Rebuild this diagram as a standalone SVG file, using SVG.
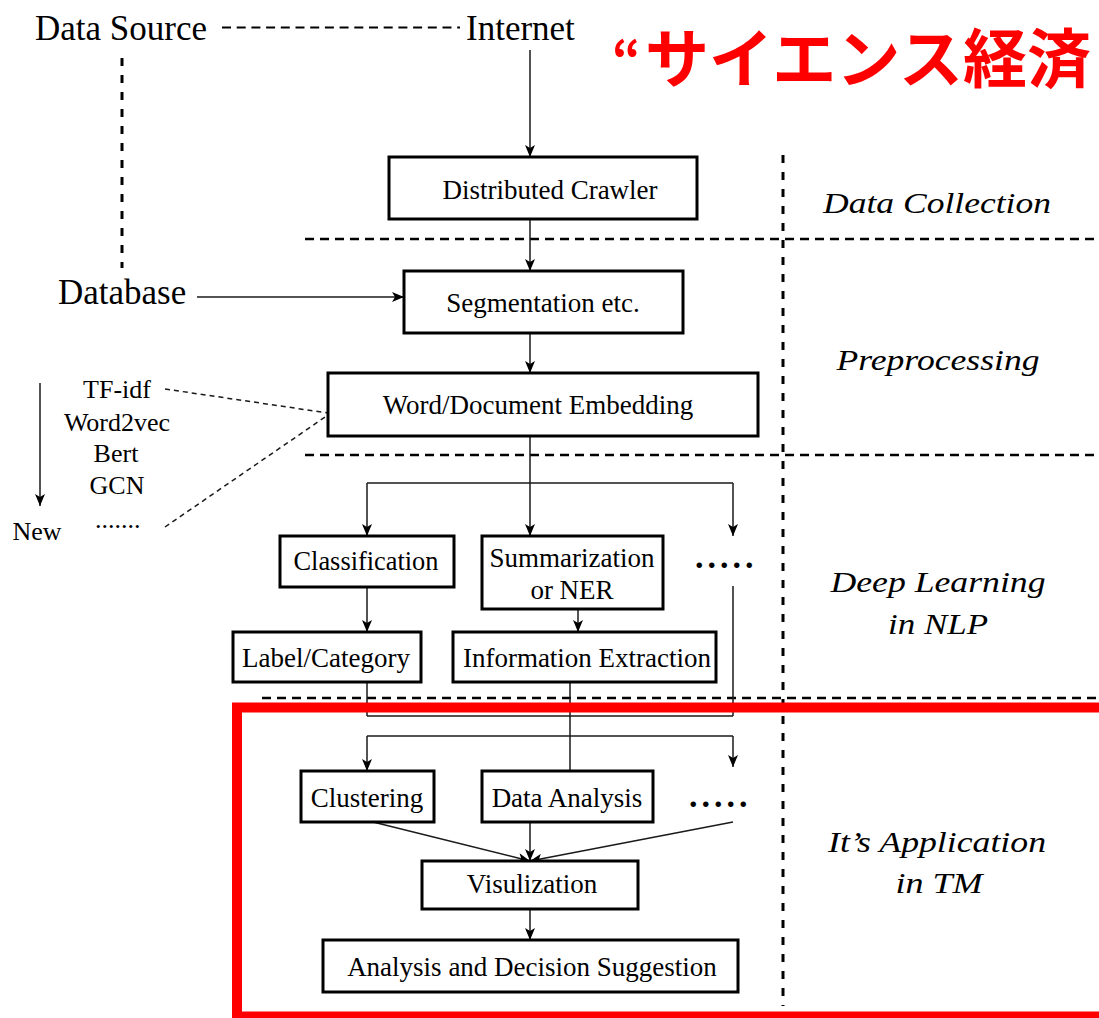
<svg xmlns="http://www.w3.org/2000/svg" width="1099" height="1018" viewBox="0 0 1099 1018">
<style>
text{font-family:"Liberation Serif","Times New Roman",serif;fill:#000}
.box rect{fill:#fff;stroke:#000;stroke-width:3}
.bt{font-size:27px;text-anchor:middle}
.lbl{font-size:30px;font-style:italic;text-anchor:middle}
.big{font-size:35px}
.side{font-size:26px;text-anchor:middle}
.dots{font-size:34px;font-weight:bold;letter-spacing:4px}
.conn line{stroke:#1a1a1a;stroke-width:1.5;fill:none}
.conn .arr{marker-end:url(#ah)}
.sep{stroke:#000;stroke-width:2.6;stroke-dasharray:9 6;fill:none}
.vsep{stroke:#000;stroke-width:3;stroke-dasharray:8 9;fill:none}
.thin{stroke:#333;stroke-width:1.2;stroke-dasharray:5 4;fill:none}
</style>
<defs>
<marker id="ah" viewBox="0 0 12 10" refX="12" refY="5" markerWidth="12" markerHeight="10" markerUnits="userSpaceOnUse" orient="auto">
<path d="M0,0 L12,5 L0,10 L3,5 Z" fill="#000"/>
</marker>
</defs>
<rect width="1099" height="1018" fill="#fff"/>

<!-- separators -->
<g id="separators">
<line class="sep" x1="222" y1="27.5" x2="460" y2="27.5" style="stroke-width:2;stroke-dasharray:9 5.7"/>
<line class="vsep" x1="122" y1="58" x2="122" y2="268"/>
<line class="sep" x1="305" y1="239" x2="1099" y2="239"/>
<line class="sep" x1="305" y1="455" x2="1099" y2="455"/>
<line class="sep" x1="262" y1="698" x2="1099" y2="698"/>
<line class="vsep" x1="783" y1="155" x2="783" y2="1006"/>
</g>

<!-- title -->
<text id="title" x="612" y="82" font-weight="bold" style="font-family:'Noto Sans CJK JP',sans-serif;fill:#ff0000;font-size:64px"><tspan style="font-size:50px" y="78">“</tspan><tspan x="645" y="82">サイエンス経済</tspan></text>

<!-- source labels -->
<g id="data-source"><text class="big" x="35" y="40">Data Source</text></g>
<g id="internet"><text class="big" x="466" y="40">Internet</text></g>
<g id="database"><text class="big" x="58" y="304">Database</text></g>

<!-- embedding list -->
<g id="embedding-list">
<text class="side" x="117" y="398">TF-idf</text>
<text class="side" x="117" y="431">Word2vec</text>
<text class="side" x="116" y="462">Bert</text>
<text class="side" x="117" y="494">GCN</text>
<text class="side" x="37" y="540">New</text>
<text x="95" y="528" style="font-size:26px">.......</text>
</g>

<!-- stage labels -->
<g id="stage-labels">
<text class="lbl" x="937" y="213" textLength="228" lengthAdjust="spacingAndGlyphs">Data Collection</text>
<text class="lbl" x="938" y="370" textLength="203" lengthAdjust="spacingAndGlyphs">Preprocessing</text>
<text class="lbl" x="938" y="592" textLength="215" lengthAdjust="spacingAndGlyphs">Deep Learning</text>
<text class="lbl" x="938" y="634" textLength="100" lengthAdjust="spacingAndGlyphs">in NLP</text>
<text class="lbl" x="937" y="852" textLength="218" lengthAdjust="spacingAndGlyphs">It’s Application</text>
<text class="lbl" x="939" y="893" textLength="87" lengthAdjust="spacingAndGlyphs">in TM</text>
</g>

<!-- connectors -->
<g id="connectors" class="conn">
<line class="arr" x1="530" y1="50" x2="530" y2="157"/>
<line class="arr" x1="530" y1="219" x2="530" y2="271"/>
<line class="arr" x1="197" y1="297" x2="404" y2="297"/>
<line class="arr" x1="530" y1="333" x2="530" y2="373"/>
<line x1="530" y1="436" x2="530" y2="483"/>
<line x1="367" y1="483" x2="733" y2="483"/>
<line class="arr" x1="367" y1="483" x2="367" y2="536"/>
<line class="arr" x1="530" y1="483" x2="530" y2="536"/>
<line class="arr" x1="733" y1="483" x2="733" y2="536"/>
<line class="arr" x1="367" y1="587" x2="367" y2="632"/>
<line class="arr" x1="578" y1="609" x2="578" y2="632"/>
<line x1="367" y1="682" x2="367" y2="716"/>
<line x1="733" y1="586" x2="733" y2="716"/>
<line x1="367" y1="716" x2="733" y2="716"/>
<line x1="570" y1="682" x2="570" y2="771"/>
<line x1="367" y1="736" x2="733" y2="736"/>
<line class="arr" x1="367" y1="736" x2="367" y2="771"/>
<line class="arr" x1="733" y1="736" x2="733" y2="767"/>
<line class="arr" x1="373" y1="822" x2="530" y2="861"/>
<line class="arr" x1="530" y1="822" x2="530" y2="861"/>
<line class="arr" x1="733" y1="822" x2="530" y2="861"/>
<line class="arr" x1="530" y1="909" x2="530" y2="940"/>
<line class="arr" x1="40" y1="383" x2="40" y2="506"/>
<line class="thin" x1="165" y1="389" x2="328" y2="413"/>
<line class="thin" x1="165" y1="527" x2="328" y2="415"/>
</g>

<!-- nodes -->
<g id="crawler" class="box"><rect x="389" y="157" width="308" height="62"/><text class="bt" x="550" y="199">Distributed Crawler</text></g>
<g id="segmentation" class="box"><rect x="404" y="271" width="279" height="62"/><text class="bt" x="543" y="312">Segmentation etc.</text></g>
<g id="embedding" class="box"><rect x="328" y="373" width="430" height="63"/><text class="bt" x="538" y="414">Word/Document Embedding</text></g>
<g id="classification" class="box"><rect x="280" y="536" width="174" height="51"/><text class="bt" x="366" y="570" textLength="145" lengthAdjust="spacingAndGlyphs">Classification</text></g>
<g id="summarization" class="box"><rect x="482" y="536" width="181" height="73"/><text class="bt" x="572" y="567">Summarization</text><text class="bt" x="572" y="599">or NER</text></g>
<g id="more-dl"><text class="dots" x="695" y="568">.....</text></g>
<g id="label-category" class="box"><rect x="233" y="632" width="188" height="50"/><text class="bt" x="326" y="667">Label/Category</text></g>
<g id="info-extraction" class="box"><rect x="453" y="632" width="263" height="50"/><text class="bt" x="587" y="667">Information Extraction</text></g>
<g id="clustering" class="box"><rect x="301" y="771" width="133" height="51"/><text class="bt" x="367" y="807">Clustering</text></g>
<g id="data-analysis" class="box"><rect x="482" y="771" width="171" height="51"/><text class="bt" x="567" y="807">Data Analysis</text></g>
<g id="more-app"><text class="dots" x="689" y="807">.....</text></g>
<g id="visulization" class="box"><rect x="422" y="861" width="216" height="48"/><text class="bt" x="532" y="893">Visulization</text></g>
<g id="decision" class="box"><rect x="323" y="940" width="415" height="52"/><text class="bt" x="532" y="976">Analysis and Decision Suggestion</text></g>

<!-- highlight frame -->
<rect id="highlight" x="237" y="707.5" width="880" height="309" fill="none" stroke="#ff0000" stroke-width="10"/>
</svg>
